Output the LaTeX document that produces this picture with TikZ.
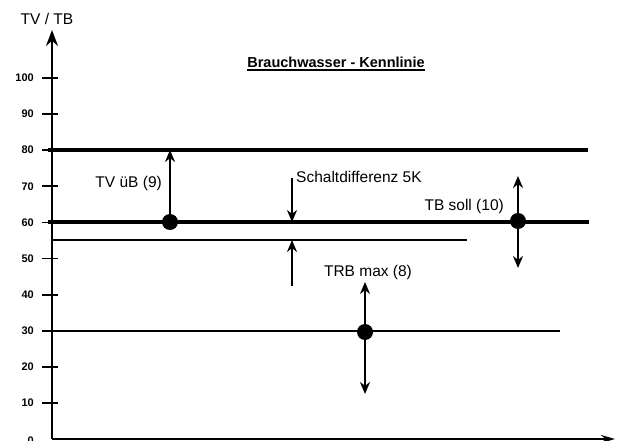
\documentclass[tikz,border=0pt]{standalone}
\usepackage{fontspec}
\setmainfont{Liberation Sans}
\usetikzlibrary{arrows.meta, positioning}

\begin{document}
\begin{tikzpicture}[x=1pt, y=-1pt,
    dot/.style={circle, fill=black, inner sep=0pt, minimum size=16pt},
    lbl/.style={font=\fontsize{15.5}{17}\selectfont, inner sep=0pt},
    ticklbl/.style={font=\bfseries\fontsize{11}{12}\selectfont, inner sep=0pt, anchor=east},
    pfeil/.style={-{Stealth[length=12pt, width=10pt]}, line width=2pt}]
    \useasboundingbox (0,0) rectangle (621,441);

    % Axes
    \coordinate (O) at (52,439);
    \coordinate (ytop) at (52,30);
    \coordinate (xend) at (615,439);
    \draw[line width=2.2pt, -{Stealth[length=16pt, width=12pt]}] (O) -- (ytop);
    \draw[line width=2.2pt, -{Stealth[length=14pt, width=8pt]}] (O) -- (xend);
    \node[lbl] (yname) at (47,19) {TV / TB};
    \foreach \v in {10,20,...,100} {
        \draw[line width=1.8pt] (42,{439-3.61*\v}) -- (58,{439-3.61*\v});
        \node[ticklbl] at (34,{439-3.61*\v}) {\v};
    }
    \node[ticklbl] at (34,441) {0};

    % Title
    \node[font=\bfseries\fontsize{14.5}{17}\selectfont, inner sep=0pt] (title) at (336,62) {Brauchwasser - Kennlinie};
    \draw[line width=1.8pt] ([yshift=-3pt]title.base west) -- ([yshift=-3pt]title.base east);

    % Levels
    \coordinate (a80) at (48,150);  \coordinate (b80) at (588,150);
    \coordinate (a60) at (48,222);  \coordinate (b60) at (589,222);
    \coordinate (a55) at (52,240);  \coordinate (b55) at (467,240);
    \coordinate (a30) at (48,331);  \coordinate (b30) at (560,331);
    \draw[line width=4.5pt] (a80) -- (b80);
    \draw[line width=4.5pt] (a60) -- (b60);
    \draw[line width=1.8pt] (a55) -- (b55);
    \draw[line width=2.8pt] (a30) -- (b30);

    % TV ueB
    \node[dot] (tvub) at (170,222) {};
    \draw[pfeil] (tvub.center) -- (tvub |- a80);
    \node[lbl, anchor=east] (tvublbl) at (162,183) {TV üB (9)};

    % Schaltdifferenz
    \coordinate (sdtop) at (292,178);
    \coordinate (sdbot) at (292,286);
    \draw[pfeil] (sdtop) -- (sdtop |- a60);
    \draw[pfeil] (sdbot) -- (sdbot |- a55);
    \node[lbl, anchor=west] (sdlbl) at (296,177) {Schaltdifferenz 5K};

    % TB soll
    \node[dot] (tbsoll) at (518,221) {};
    \coordinate (tbup) at (518,176);
    \coordinate (tbdown) at (518,268);
    \draw[pfeil] (tbsoll.center) -- (tbup);
    \draw[pfeil] (tbsoll.center) -- (tbdown);
    \node[lbl, anchor=east] (tbsolllbl) at (504,206) {TB soll (10)};

    % TRB max
    \node[dot] (trbmax) at (365,332) {};
    \coordinate (trbup) at (365,282);
    \coordinate (trbdown) at (365,394);
    \draw[pfeil] (trbmax.center) -- (trbup);
    \draw[pfeil] (trbmax.center) -- (trbdown);
    \node[lbl] (trbmaxlbl) at (368,272) {TRB max (8)};
\end{tikzpicture}
\end{document}
